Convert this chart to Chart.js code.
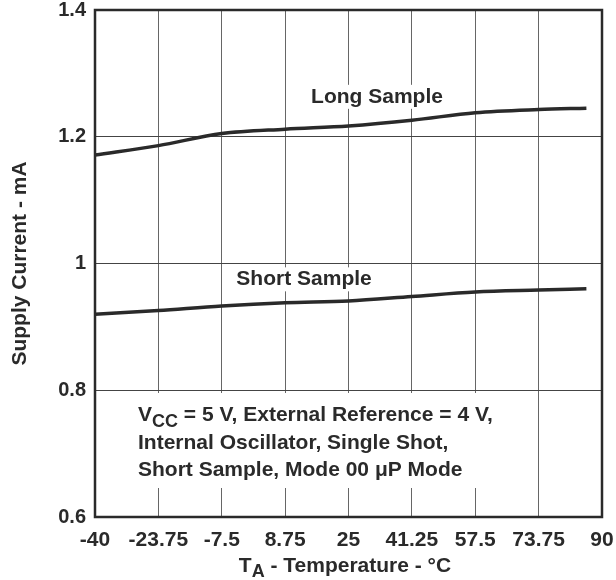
<!DOCTYPE html>
<html>
<head>
<meta charset="utf-8">
<script src="https://cdn.jsdelivr.net/npm/chart.js@4/dist/chart.umd.min.js"></script>
<style>
  html, body { margin: 0; padding: 0; background: #fff; }
  #wrap { width: 616px; height: 580px; }
</style>
</head>
<body>
<div id="wrap"><canvas id="chart"></canvas></div>
<script>
// values
const temps = [-40, -23.75, -7.5, 8.75, 25, 41.25, 57.5, 73.75, 86];
const longSample = [1.171, 1.186, 1.205, 1.212, 1.217, 1.226, 1.238, 1.243, 1.245];
const shortSample = [0.920, 0.926, 0.933, 0.938, 0.941, 0.948, 0.955, 0.958, 0.960];
const xTicks = [-40, -23.75, -7.5, 8.75, 25, 41.25, 57.5, 73.75, 90];
const yTicks = [0.6, 0.8, 1, 1.2, 1.4];
const seriesNames = [`Long Sample`, `Short Sample`];
const noteLines = [`= 5 V, External Reference = 4 V,`, `Internal Oscillator, Single Shot,`, `Short Sample, Mode 00 μP Mode`];

const FONT = `"Liberation Sans", Arial, Helvetica, sans-serif`;
const INK = `#2a2a2a`;

const toPoints = (ys) => temps.map((t, i) => ({ x: t, y: ys[i] }));

const labelsPlugin = {
  id: `labels`,
  beforeDatasetsDraw(chart) {
    const { ctx, scales: { x, y }, chartArea: a } = chart;
    ctx.save();
    ctx.font = `bold 21px ${FONT}`;
    ctx.textBaseline = `middle`;
    ctx.textAlign = `center`;
    // series labels, white behind so the grid is broken
    const spots = [[32.3, 1.263], [13.6, 0.975]];
    seriesNames.forEach((name, i) => {
      const px = x.getPixelForValue(spots[i][0]);
      const py = y.getPixelForValue(spots[i][1]);
      const w = ctx.measureText(name).width;
      ctx.fillStyle = `#fff`;
      ctx.fillRect(px - w / 2 - 3, py - 12, w + 6, 24);
      ctx.fillStyle = INK;
      ctx.fillText(name, px, py);
    });
    // conditions box
    ctx.fillStyle = `#fff`;
    ctx.fillRect(a.left + 37, a.top + 383, 372, 95);
    ctx.fillStyle = INK;
    ctx.textAlign = `left`;
    const left = a.left + 43;
    ctx.fillText(`V`, left, a.top + 405);
    const vw = ctx.measureText(`V`).width;
    ctx.font = `bold 18px ${FONT}`;
    ctx.fillText(`CC`, left + vw, a.top + 412);
    const cw = ctx.measureText(`CC`).width;
    ctx.font = `bold 21px ${FONT}`;
    ctx.fillText(` ` + noteLines[0], left + vw + cw, a.top + 405);
    ctx.fillText(noteLines[1], left, a.top + 433);
    ctx.fillText(noteLines[2], left, a.top + 460);
    ctx.restore();
  },
  afterDraw(chart) {
    const { ctx, chartArea: a } = chart;
    ctx.save();
    ctx.strokeStyle = INK;
    ctx.lineWidth = 2.5;
    ctx.strokeRect(a.left, a.top, a.right - a.left, a.bottom - a.top);
    // x axis title with subscript
    ctx.fillStyle = INK;
    ctx.textBaseline = `alphabetic`;
    ctx.textAlign = `left`;
    ctx.font = `bold 21px ${FONT}`;
    const rest = ` - Temperature - °C`;
    const tW = ctx.measureText(`T`).width;
    const rW = ctx.measureText(rest).width;
    ctx.font = `bold 18px ${FONT}`;
    const sW = ctx.measureText(`A`).width;
    const cx = 345;
    const sx = cx - (tW + sW + rW) / 2;
    const base = 572;
    ctx.font = `bold 21px ${FONT}`;
    ctx.fillText(`T`, sx, base);
    ctx.font = `bold 18px ${FONT}`;
    ctx.fillText(`A`, sx + tW, base + 5);
    ctx.font = `bold 21px ${FONT}`;
    ctx.fillText(rest, sx + tW + sW, base);
    ctx.restore();
  }
};

new Chart(document.getElementById(`chart`), {
  type: `line`,
  data: {
    datasets: [
      {
        label: seriesNames[0],
        data: toPoints(longSample),
        borderColor: INK,
        borderWidth: 3.5,
        pointRadius: 0,
        cubicInterpolationMode: `monotone`,
      },
      {
        label: seriesNames[1],
        data: toPoints(shortSample),
        borderColor: INK,
        borderWidth: 3.5,
        pointRadius: 0,
        cubicInterpolationMode: `monotone`,
      },
    ],
  },
  options: {
    responsive: true,
    maintainAspectRatio: false,
    animation: false,
    layout: { padding: { top: 10, right: 14, left: 0, bottom: 0 } },
    plugins: { legend: { display: false }, tooltip: { enabled: false } },
    scales: {
      x: {
        type: `linear`,
        min: -40,
        max: 90,
        afterBuildTicks: (s) => { s.ticks = xTicks.map((v) => ({ value: v })); },
        afterFit: (s) => { s.height = 63; s.paddingLeft = 0; s.paddingRight = 0; },
        grid: { color: `#666`, lineWidth: 1, drawTicks: false },
        border: { display: false },
        ticks: {
          color: INK,
          font: { family: FONT, size: 21, weight: `bold` },
          padding: 11,
          maxRotation: 0,
          autoSkip: false,
          callback: (v) => String(v),
        },
      },
      y: {
        min: 0.6,
        max: 1.4,
        afterBuildTicks: (s) => { s.ticks = yTicks.map((v) => ({ value: v })); },
        afterFit: (s) => { s.width = 95; s.paddingTop = 0; s.paddingBottom = 0; },
        grid: { color: `#444`, lineWidth: 1, drawTicks: false },
        border: { display: false },
        ticks: {
          color: INK,
          font: { family: FONT, size: 20, weight: `bold` },
          padding: 9,
          callback: (v) => String(v),
        },
        title: {
          display: true,
          text: `Supply Current - mA`,
          color: INK,
          font: { family: FONT, size: 21, weight: `bold` },
          padding: { top: 8, bottom: 0 },
        },
      },
    },
  },
  plugins: [labelsPlugin],
});
</script>
</body>
</html>
